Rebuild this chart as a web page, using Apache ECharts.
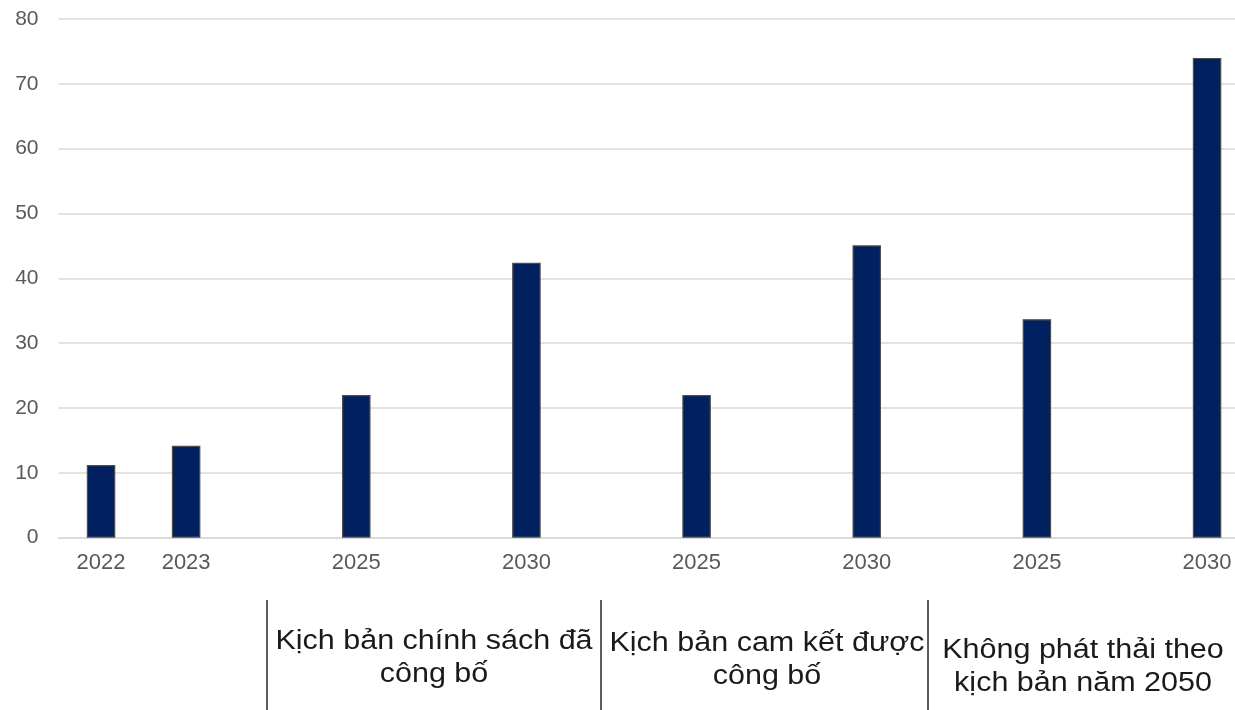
<!DOCTYPE html>
<html><head><meta charset="utf-8">
<script src="https://cdn.jsdelivr.net/npm/echarts@6/dist/echarts.min.js"></script>
<style>html,body{margin:0;padding:0;background:#fff}#c{width:1235px;height:710px}</style>
</head><body><div id="c"></div>
<script>
const categories = ['2022','2023','','2025','','2030','','2025','','2030','','2025','','2030'];
const values = [11.2, 14.2, null, 22.0, null, 42.4, null, 22.0, null, 45.1, null, 33.7, null, 74.0];
const yMin = 0, yMax = 80, yStep = 10;
const groupLabels = ['Kịch bản chính sách đã\ncông bố', 'Kịch bản cam kết được\ncông bố', 'Không phát thải theo\nkịch bản năm 2050'];

const chart = echarts.init(document.getElementById('c'), null, {renderer: 'canvas'});
const FONT = '"Liberation Sans", Arial, sans-serif';
const sepX = [267, 601, 928];
const labelCX = [434, 767, 1083];
const labelCY = [658, 660, 667];

const graphics = [];
sepX.forEach(x => graphics.push({type:'line', shape:{x1:x, y1:600, x2:x, y2:712}, style:{stroke:'#262626', lineWidth:1.5}, silent:true}));
groupLabels.forEach((t,i) => graphics.push({type:'text', x:labelCX[i], y:labelCY[i], scaleX:1.13, style:{text:t, fill:'#1a1a1a', fontFamily:FONT, fontSize:27, align:'center', verticalAlign:'middle', lineHeight:33}, silent:true}));

chart.setOption({
  animation:false,
  grid:{left:58.5, top:19, right:-14.6, height:518.7, containLabel:false, outerBoundsMode:'none'},
  xAxis:{type:'category', data:categories,
    axisLine:{show:true, lineStyle:{color:'#d9d9d9', width:1.5}},
    axisTick:{show:false},
    axisLabel:{interval:0, color:'#595959', fontSize:22, fontFamily:FONT, margin:14},
    splitLine:{show:false}},
  yAxis:{type:'value', min:yMin, max:yMax, interval:yStep,
    axisLine:{show:false}, axisTick:{show:false},
    axisLabel:{color:'#595959', fontSize:21, fontFamily:FONT, margin:20},
    splitLine:{lineStyle:{color:'#d9d9d9', width:1.5}}},
  series:[{type:'bar', data:values, barWidth:28.5,
    itemStyle:{color:'#002060', borderColor:'#4d4d4d', borderWidth:1.2}}],
  graphic:graphics
});
</script></body></html>
